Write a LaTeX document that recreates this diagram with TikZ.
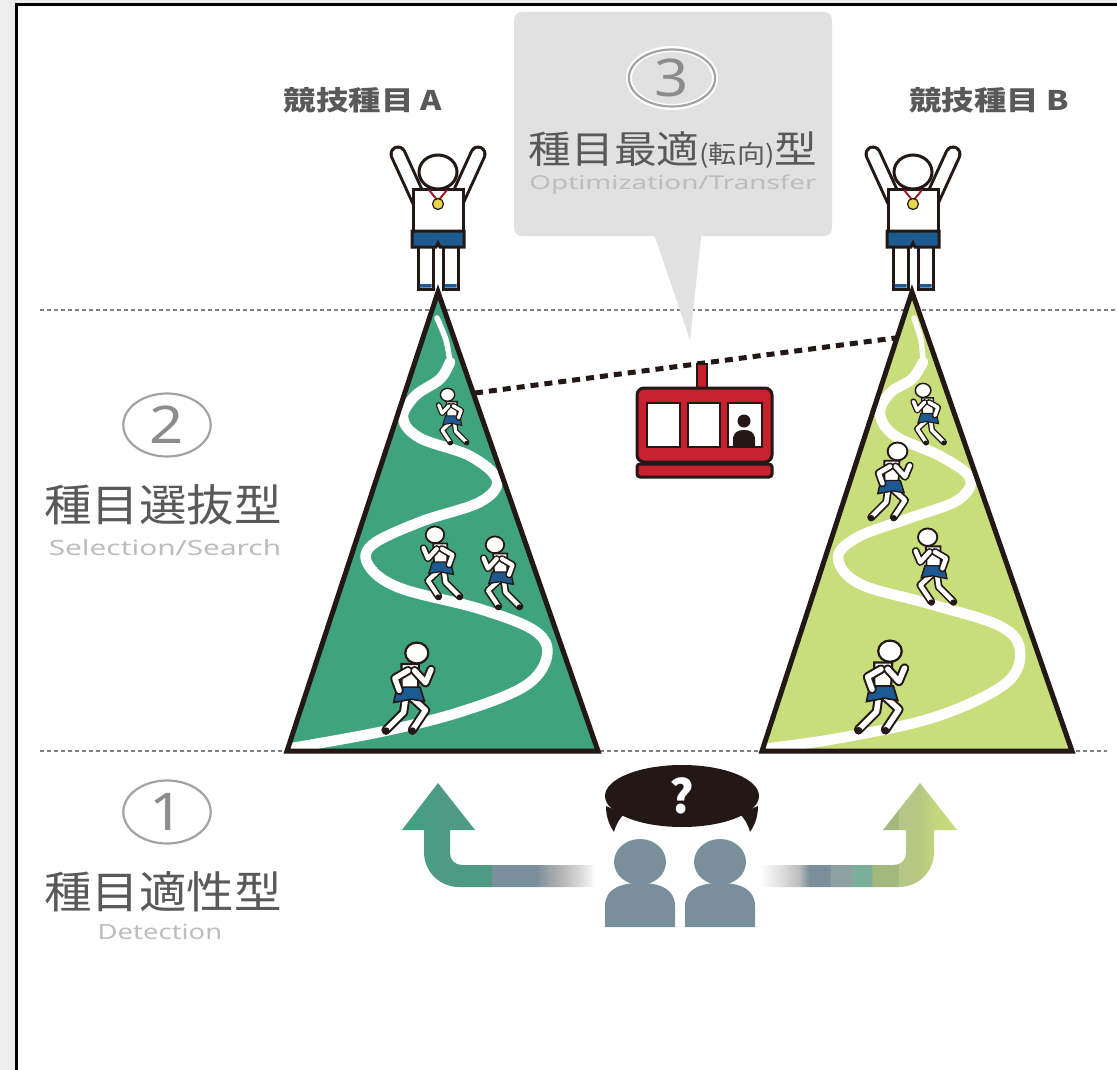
\documentclass[tikz,border=0pt]{standalone}
\usepackage{fontspec}
\usetikzlibrary{shapes.geometric}
\newfontfamily\jp{Noto Sans CJK JP}
\newfontfamily\en{Noto Sans}

\definecolor{paper}{HTML}{EDEDED}
\definecolor{ink}{HTML}{231815}
\definecolor{labelgray}{HTML}{595959}
\definecolor{subgray}{HTML}{BDBDBD}
\definecolor{numgray}{HTML}{8C8C8C}
\definecolor{ringgray}{HTML}{A3A3A3}
\definecolor{boxgray}{HTML}{E1E1E1}
\definecolor{rulegray}{HTML}{7F7F7F}
\definecolor{peakA}{HTML}{3FA37E}
\definecolor{peakB}{HTML}{C8DE7A}
\definecolor{shorts}{HTML}{1D5A92}
\definecolor{cabin}{HTML}{C8202F}
\definecolor{slate}{HTML}{7A8F9C}
\definecolor{medal}{HTML}{E6D64A}
\definecolor{ribbon}{HTML}{A31D2B}
% colours of the two route arrows
\definecolor{aGreen}{HTML}{3FA37E}
\definecolor{aTeal}{HTML}{4E9A85}
\definecolor{fadeA}{HTML}{9AA3A6}
\definecolor{fadeB}{HTML}{BBBBBB}
\definecolor{fadeC}{HTML}{DADADA}
\definecolor{bSea}{HTML}{8FA0A0}
\definecolor{bTeal}{HTML}{7AB09A}
\definecolor{bOlive}{HTML}{A3B87C}
\definecolor{bLime}{HTML}{B4C784}
\definecolor{bLime2}{HTML}{C2D67C}

\pgfdeclarehorizontalshading{routeA}{100bp}{color(0bp)=(aGreen); color(25bp)=(aGreen);
  color(34bp)=(aTeal); color(47.5bp)=(aTeal); color(47.7bp)=(slate); color(59bp)=(slate);
  color(62bp)=(fadeA); color(66bp)=(fadeB); color(70bp)=(fadeC); color(74bp)=(white); color(100bp)=(white)}
\pgfdeclarehorizontalshading{routeB}{100bp}{color(0bp)=(white); color(25bp)=(white);
  color(31bp)=(fadeC); color(35bp)=(fadeB); color(37.5bp)=(slate); color(42.7bp)=(slate);
  color(42.9bp)=(bSea); color(48.3bp)=(bSea); color(48.5bp)=(bTeal); color(53.3bp)=(bTeal);
  color(53.5bp)=(bOlive); color(60bp)=(bOlive); color(60.2bp)=(bLime); color(65bp)=(bLime);
  color(69.5bp)=(bLime2); color(75bp)=(peakB); color(100bp)=(peakB)}

% a small running athlete; #1,#2 hip position, #3 size, #4 direction (1 right, -1 left)
\newcommand\runner[4]{%
\begin{scope}[shift={(#1,#2)}, xscale=#4*#3, yscale=#3]
  \draw[ink, line width=#3*8.5pt, line cap=round, line join=round]
    (3,0) -- (16,12) -- (4,30) (-2,0) -- (-4,14) -- (-20,30);
  \draw[white, line width=#3*4.8pt, line cap=round, line join=round]
    (3,0) -- (16,12) -- (4,30) (-2,0) -- (-4,14) -- (-20,30);
  \fill[ink] (4,31) circle [radius=3.4] (-20,31) circle [radius=3.4];
  \draw[ink, line width=#3*2pt, fill=white] (-6,-30) -- (10,-30) -- (9,-6) -- (-6,-6) -- cycle;
  \draw[ink, line width=#3*1.5pt, fill=shorts] (-10,-9) -- (11,-9) -- (15,4) -- (3,2) -- (-13,5) -- cycle;
  \draw[ink, line width=#3*8.5pt, line cap=round, line join=round]
    (6,-24) -- (16,-13) -- (21,-25) (0,-24) -- (-12,-17) -- (-8,-6);
  \draw[white, line width=#3*4.8pt, line cap=round, line join=round]
    (6,-24) -- (16,-13) -- (21,-25) (0,-24) -- (-12,-17) -- (-8,-6);
  \draw[ink, line width=#3*2pt, fill=white] (8,-40) ellipse [x radius=10.5, y radius=9.5];
\end{scope}}

% the winner standing on a summit; #1 x centre
\newcommand\champion[1]{%
\begin{scope}[shift={(#1,0)}]
  \draw[ink, line width=17pt, line cap=round] (-40,154) -- (-19,200) (40,154) -- (19,200);
  \draw[white, line width=11pt, line cap=round] (-40,154) -- (-19,200) (40,154) -- (19,200);
  \draw[ink, line width=3pt, fill=white] (-20,240) rectangle (-5,289);
  \draw[ink, line width=3pt, fill=white] (5,240) rectangle (20,289);
  \fill[shorts] (-18.5,284) rectangle (-6.5,287.5) (6.5,284) rectangle (18.5,287.5);
  \draw[ink, line width=3pt, fill=white] (-25,190) rectangle (25,233);
  \draw[ink, line width=3pt, fill=shorts] (-26,231) -- (26,231) -- (26,247) -- (2,247)
    -- (0,243) -- (-2,247) -- (-26,247) -- cycle;
  \draw[ink, line width=3pt, fill=white] (0,172) ellipse [x radius=19, y radius=17];
  \draw[ribbon, line width=2pt] (-9,190) -- (0,201) -- (9,190);
  \draw[ink, line width=1.2pt, fill=medal] (0,204) circle [radius=5.5];
\end{scope}}

\tikzset{
  jptitle/.style={font=\jp\fontsize{44}{44}\selectfont, text=labelgray, inner sep=0, xscale=1.08},
  entitle/.style={font=\en\fontsize{21}{21}\selectfont, text=subgray, inner sep=0, xscale=1.42},
  numring/.style={ellipse, draw=ringgray, line width=2.2pt, minimum width=76pt, minimum height=63pt,
    inner sep=0, font=\en\fontsize{52}{52}\selectfont, text=numgray, xscale=1.15},
  eventlabel/.style={font=\jp\bfseries\fontsize{27}{27}\selectfont, text=labelgray, inner sep=0, xscale=1.2},
  level/.style={rulegray, line width=1.2pt, dash pattern=on 4pt off 3pt},
  outline/.style={ink, line width=5pt, line join=miter},
  trail/.style={white, line cap=round, line join=round},
  window/.style={fill=white, draw=ink, line width=2.5pt}
}

\begin{document}
\begin{tikzpicture}[x=1pt, y=-1pt]
\useasboundingbox (0,0) rectangle (1117,1070);
% page and frame
\fill[paper] (0,0) rectangle (1117,1070);
\fill[white] (16,4) rectangle (1117,1070);
\draw[black, line width=3pt] (16.5,1070) -- (16.5,4.5) -- (1117,4.5);

% level rules
\draw[level] (40,310) -- (1117,310);
\draw[level] (40,751) -- (1107,751);

% summit and base points of the two peaks
\coordinate (Atop) at (438,292);
\coordinate (Aleft) at (287,751);
\coordinate (Aright) at (598,751);
\coordinate (Btop) at (912,292);
\coordinate (Bleft) at (762,751);
\coordinate (Bright) at (1072,751);

% peak A
\fill[peakA] (Atop) -- (Aright) -- (Aleft) -- cycle;
\begin{scope}
  \clip (Atop) -- (Aright) -- (Aleft) -- cycle;
  \draw[trail, line width=5.5pt] plot[smooth] coordinates {(437,318) (446,340) (450,362)};
  \draw[trail, line width=10.5pt] plot[smooth, tension=0.6] coordinates {(450,362) (440,379) (415,396)
    (403,418) (420,438) (470,456) (497,480) (480,502) (420,522) (372,545) (369,566) (400,588)
    (480,609) (535,631) (547,656) (525,686) (460,712) (380,732) (280,750)};
  \runner{453}{422}{0.68}{-1}
  \runner{442}{570}{0.88}{-1}
  \runner{502}{580}{0.88}{-1}
  \runner{408}{697}{1.1}{1}
\end{scope}
\draw[outline] (Atop) -- (Aright) -- (Aleft) -- cycle;

% peak B
\fill[peakB] (Btop) -- (Bright) -- (Bleft) -- cycle;
\begin{scope}
  \clip (Btop) -- (Bright) -- (Bleft) -- cycle;
  \draw[trail, line width=5.5pt] plot[smooth] coordinates {(914,318) (921,340) (923,362)};
  \draw[trail, line width=10.5pt] plot[smooth, tension=0.6] coordinates {(923,362) (912,379) (890,393)
    (880,414) (895,436) (940,456) (970,478) (958,500) (910,518) (858,537) (838,558) (860,584)
    (930,604) (1000,626) (1020,651) (1005,684) (935,717) (840,738) (755,750)};
  \runner{929}{420}{0.74}{-1}
  \runner{890}{489}{0.94}{1}
  \runner{935}{574}{0.92}{-1}
  \runner{881}{696}{1.12}{1}
\end{scope}
\draw[outline] (Btop) -- (Bright) -- (Bleft) -- cycle;

% winners on the summits
\champion{438}
\champion{913}
\node[eventlabel] (eventA) at (363,100) {競技種目 A};
\node[eventlabel] (eventB) at (989,100) {競技種目 B};

% callout for type 3
\fill[boxgray] (652,228) -- (690,340) -- (702,228) -- cycle;
\fill[boxgray, rounded corners=8pt] (514,12) rectangle (832,236);
\draw[white, line width=6pt] (672,78) ellipse [x radius=43, y radius=29];
\node[numring, minimum height=57pt, minimum width=75pt] (n3) at (672,78) {3};
\node[jptitle, font=\jp\fontsize{38}{38}\selectfont, xscale=1.04] (t3) at (673,150)
  {種目最適{\fontsize{25}{25}\selectfont(転向)}型};
\node[entitle, font=\en\fontsize{19}{19}\selectfont, xscale=1.03] (e3) at (673,185) {Optimization/Transfer};

% ropeway between the peaks
\coordinate (cabA) at (475,393);
\coordinate (cabB) at (895,338);
\draw[ink, line width=5pt, dash pattern=on 8pt off 6pt] (cabA) -- (cabB);
\draw[ink, line width=2.5pt, fill=cabin] (697,364) rectangle (707,390);
\draw[ink, line width=3pt, fill=cabin, rounded corners=7pt] (637,388) rectangle (772,462);
\draw[ink, line width=3pt, fill=cabin, rounded corners=3pt] (637,464) rectangle (772,477);
\draw[window] (647,403) rectangle (680,447);
\draw[window] (688,403) rectangle (720,447);
\draw[window] (728,403) rectangle (762,447);
\fill[ink] (744,421) circle [radius=6.5];
\fill[ink] (733,447) -- (733,440) .. controls (733,432) and (738,430) .. (744,430)
  .. controls (750,430) and (755,432) .. (755,440) -- (755,447) -- cycle;

% type labels on the left
\node[numring] (n2) at (167,425) {2};
\node[jptitle] (t2) at (163,505) {種目選抜型};
\node[entitle] (e2) at (165,548) {Selection/Search};
\node[numring] (n1) at (167,812) {1};
\node[jptitle] (t1) at (163,892) {種目適性型};
\node[entitle, xscale=0.92] (e1) at (160,932) {Detection};

% route arrows towards each event
\path[shading=routeA] (600,865) -- (462,865) .. controls (455,865) and (450,860) .. (450,853)
  -- (450,830) -- (475,830) -- (438,783) -- (402,830) -- (424,830) -- (424,852)
  .. controls (424,872) and (440,887) .. (459,887) -- (600,887) -- cycle;
\path[shading=routeB] (760,865) -- (894,865) .. controls (901,865) and (906,860) .. (906,853)
  -- (906,830) -- (883,830) -- (920,783) -- (957,830) -- (934,830) -- (934,852)
  .. controls (934,872) and (918,887) .. (899,887) -- (760,887) -- cycle;

% two undecided people
\fill[ink] (682,796) ellipse [x radius=77, y radius=31];
\fill[ink] (606,806) .. controls (606,818) and (610,826) .. (614,832) .. controls (616,824) and (620,818) .. (624,814) -- cycle;
\fill[ink] (758,806) .. controls (758,818) and (754,826) .. (750,832) .. controls (748,824) and (744,818) .. (740,814) -- cycle;
\node[font=\jp\bfseries\fontsize{46}{46}\selectfont, text=white, inner sep=0] (q) at (682,796) {?};
\fill[slate] (640,862) ellipse [x radius=26, y radius=23];
\fill[slate] (605,927) -- (605,906) .. controls (605,889) and (620,883) .. (640,883)
  .. controls (660,883) and (675,889) .. (675,906) -- (675,927) -- cycle;
\fill[slate] (720,862) ellipse [x radius=26, y radius=23];
\fill[slate] (685,927) -- (685,906) .. controls (685,889) and (700,883) .. (720,883)
  .. controls (740,883) and (755,889) .. (755,906) -- (755,927) -- cycle;
\end{tikzpicture}
\end{document}
